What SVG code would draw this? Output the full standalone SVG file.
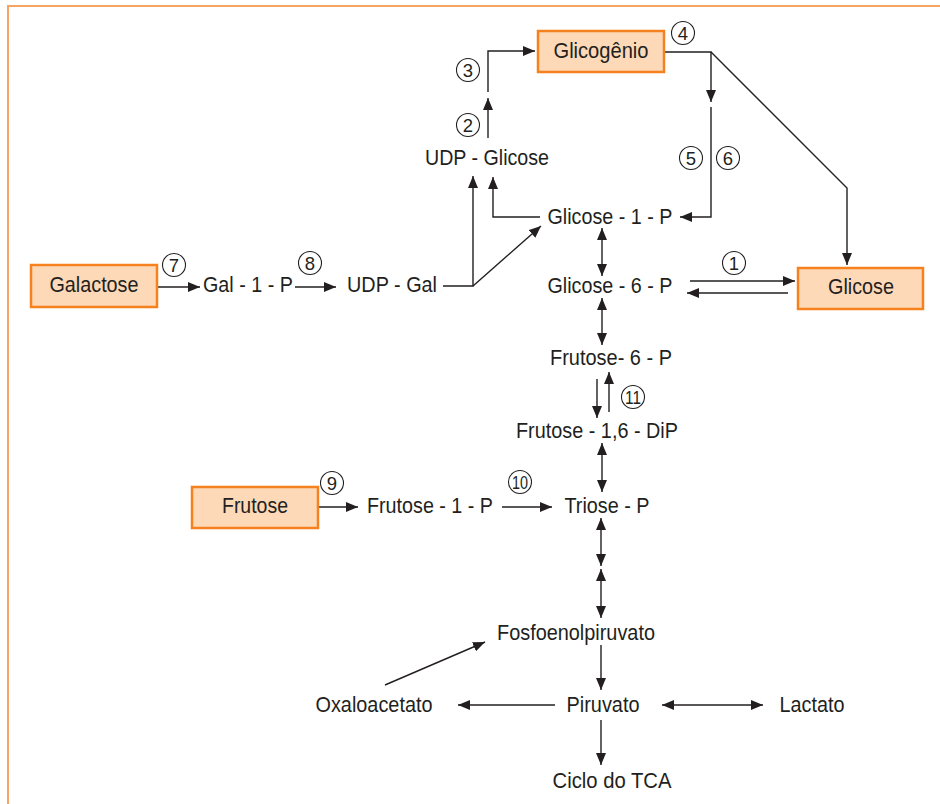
<svg xmlns="http://www.w3.org/2000/svg" width="940" height="804" viewBox="0 0 940 804">
<defs>
<style>
.t{font-family:"Liberation Sans",Arial,sans-serif;font-size:22px;fill:#231f20;text-anchor:middle}
.n{font-family:"Liberation Sans",Arial,sans-serif;font-size:18.5px;fill:#231f20;text-anchor:middle}
.c{fill:#fff;stroke:#231f20;stroke-width:1.1}
.box{fill:#fdd9b8;stroke:#f5821f;stroke-width:2.5}
.ln{fill:none;stroke:#231f20;stroke-width:1.4}
.a{marker-end:url(#ah)}
.b{marker-start:url(#ah);marker-end:url(#ah)}
</style>
<marker id="ah" viewBox="0 0 12 10" markerWidth="12" markerHeight="10" refX="12" refY="5" orient="auto-start-reverse" markerUnits="userSpaceOnUse">
<path d="M0,0 L12,5 L0,10 z" fill="#231f20"/>
</marker>
</defs>
<rect width="940" height="804" fill="#fff"/>
<path d="M8,804 V6 H940" fill="none" stroke="#f6a462" stroke-width="2"/>

<g id="connectors">
<path class="ln a" d="M488,138 V98"/>
<path class="ln a" d="M488,92 V51 H535"/>
<path class="ln a" d="M664,52 H711 V102"/>
<path class="ln a" d="M711,107 V217 H680"/>
<path class="ln a" d="M711,52 L847,188 V265"/>
<path class="ln a" d="M540,217 H493 V177"/>
<path class="ln a" d="M443,286 H473 V176"/>
<path class="ln a" d="M473,286 L541,226"/>
<path class="ln b" d="M602,228 V276"/>
<path class="ln a" d="M690,281 H795"/>
<path class="ln a" d="M788,293 H687"/>
<path class="ln b" d="M602,298 V345"/>
<path class="ln a" d="M597,379 V418"/>
<path class="ln a" d="M609,412 V372"/>
<path class="ln b" d="M602,443 V492"/>
<path class="ln a" d="M157,287 H200"/>
<path class="ln a" d="M295,287 H336"/>
<path class="ln a" d="M318,507 H358"/>
<path class="ln a" d="M502,507 H552"/>
<path class="ln b" d="M601,518 V566"/>
<path class="ln b" d="M601,569 V618"/>
<path class="ln a" d="M601,645 V690"/>
<path class="ln a" d="M555,705 H458"/>
<path class="ln b" d="M662,705 H763"/>
<path class="ln a" d="M601,720 V765"/>
<path class="ln a" d="M385,685 L485,642"/>
</g>

<g id="glicogenio"><rect class="box" x="538" y="31" width="126" height="41"/><text class="t" x="601" y="58" textLength="95" lengthAdjust="spacingAndGlyphs">Glicogênio</text></g>
<g id="udp-glicose"><text class="t" x="487" y="165" textLength="124" lengthAdjust="spacingAndGlyphs">UDP - Glicose</text></g>
<g id="glicose-1-p"><text class="t" x="610" y="224" textLength="125" lengthAdjust="spacingAndGlyphs">Glicose - 1 - P</text></g>
<g id="galactose"><rect class="box" x="31" y="265" width="126" height="42"/><text class="t" x="94" y="292" textLength="89" lengthAdjust="spacingAndGlyphs">Galactose</text></g>
<g id="gal-1-p"><text class="t" x="248" y="292" textLength="90" lengthAdjust="spacingAndGlyphs">Gal - 1 - P</text></g>
<g id="udp-gal"><text class="t" x="392" y="292" textLength="90" lengthAdjust="spacingAndGlyphs">UDP - Gal</text></g>
<g id="glicose-6-p"><text class="t" x="610" y="293" textLength="125" lengthAdjust="spacingAndGlyphs">Glicose - 6 - P</text></g>
<g id="glicose"><rect class="box" x="798" y="268" width="125" height="41"/><text class="t" x="861" y="294" textLength="66" lengthAdjust="spacingAndGlyphs">Glicose</text></g>
<g id="frutose-6-p"><text class="t" x="611" y="365" textLength="122" lengthAdjust="spacingAndGlyphs">Frutose- 6 - P</text></g>
<g id="frutose-16-dip"><text class="t" x="597" y="438" textLength="162" lengthAdjust="spacingAndGlyphs">Frutose - 1,6 - DiP</text></g>
<g id="frutose"><rect class="box" x="192" y="487" width="126" height="41"/><text class="t" x="255" y="513" textLength="66" lengthAdjust="spacingAndGlyphs">Frutose</text></g>
<g id="frutose-1-p"><text class="t" x="430" y="513" textLength="126" lengthAdjust="spacingAndGlyphs">Frutose - 1 - P</text></g>
<g id="triose-p"><text class="t" x="607" y="513" textLength="85" lengthAdjust="spacingAndGlyphs">Triose - P</text></g>
<g id="fosfoenolpiruvato"><text class="t" x="576" y="640" textLength="158" lengthAdjust="spacingAndGlyphs">Fosfoenolpiruvato</text></g>
<g id="oxaloacetato"><text class="t" x="374" y="712" textLength="117" lengthAdjust="spacingAndGlyphs">Oxaloacetato</text></g>
<g id="piruvato"><text class="t" x="603" y="712" textLength="73" lengthAdjust="spacingAndGlyphs">Piruvato</text></g>
<g id="lactato"><text class="t" x="812" y="712" textLength="65" lengthAdjust="spacingAndGlyphs">Lactato</text></g>
<g id="ciclo-tca"><text class="t" x="612" y="788" textLength="119" lengthAdjust="spacingAndGlyphs">Ciclo do TCA</text></g>

<g id="steps">
<circle class="c" cx="734" cy="263" r="11.5"/><text class="n" x="734" y="269.5">1</text>
<circle class="c" cx="468" cy="125" r="11.5"/><text class="n" x="468" y="131.5">2</text>
<circle class="c" cx="468" cy="70" r="11.5"/><text class="n" x="468" y="76.5">3</text>
<circle class="c" cx="683" cy="33" r="11.5"/><text class="n" x="683" y="39.5">4</text>
<circle class="c" cx="691" cy="158" r="11.5"/><text class="n" x="691" y="164.5">5</text>
<circle class="c" cx="728" cy="158" r="11.5"/><text class="n" x="728" y="164.5">6</text>
<circle class="c" cx="174" cy="265" r="11.5"/><text class="n" x="174" y="271.5">7</text>
<circle class="c" cx="310" cy="263" r="11.5"/><text class="n" x="310" y="269.5">8</text>
<circle class="c" cx="332" cy="483" r="11.5"/><text class="n" x="332" y="489.5">9</text>
<circle class="c" cx="520" cy="482" r="11.5"/><text class="n" x="520" y="488.5" textLength="16" lengthAdjust="spacingAndGlyphs">10</text>
<circle class="c" cx="633" cy="397" r="11.5"/><text class="n" x="633" y="403.5" textLength="16" lengthAdjust="spacingAndGlyphs">11</text>
</g>
</svg>
